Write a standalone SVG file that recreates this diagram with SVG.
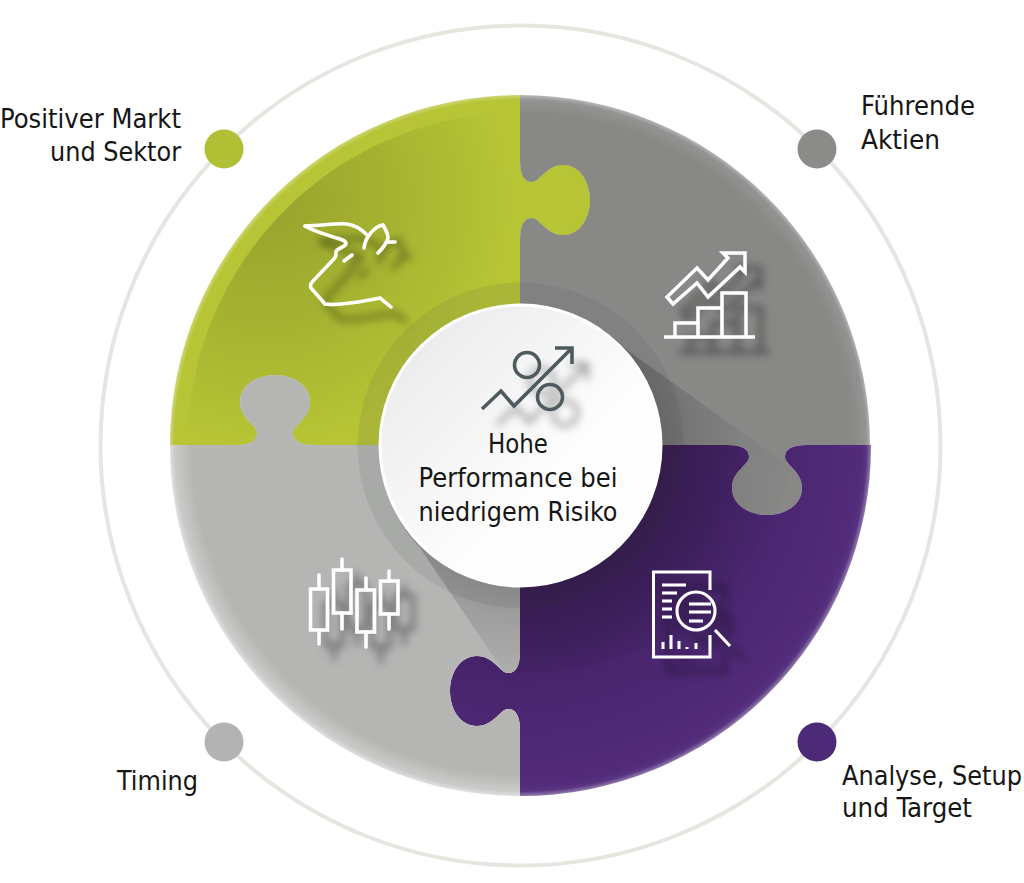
<svg xmlns="http://www.w3.org/2000/svg" width="1024" height="883" viewBox="0 0 1024 883">
<style>
text{font-family:"DejaVu Sans Condensed","DejaVu Sans","Noto Sans",sans-serif;font-stretch:condensed;font-size:26px;fill:#161615}
.ic{fill:none;stroke:#fff;stroke-width:3.5;stroke-linecap:round;stroke-linejoin:miter}
.pc{fill:none;stroke:#4f5a5e;stroke-width:3.6;stroke-linejoin:miter}
</style>
<defs>
<filter id="sh" x="-30%" y="-30%" width="190%" height="190%"><feDropShadow dx="15" dy="15" stdDeviation="4.5" flood-color="#000" flood-opacity=".5"/></filter>
<filter id="shg" x="-30%" y="-30%" width="190%" height="190%"><feDropShadow dx="15" dy="16" stdDeviation="4.5" flood-color="#000" flood-opacity=".42"/></filter>
<clipPath id="cG"><path d="M520,95A350,350 0 0 0 170,445H235C250,445 257,441 257,433C257,425 240,419 240,402C240,385 257,375 275,375C293,375 310,385 310,402C310,419 293,425 293,433C293,441 300,445 315,445H520V240C520,225 524,218 532,218C540,218 546,235 563,235C580,235 590,218 590,200C590,182 580,165 563,165C546,165 540,182 532,182C524,182 520,175 520,160Z"/></clipPath>
<radialGradient id="gG" gradientUnits="userSpaceOnUse" cx="265" cy="200" r="245"><stop offset="0" stop-color="#96a32d"/><stop offset=".5" stop-color="#a5b230"/><stop offset="1" stop-color="#b6c435"/></radialGradient>
<linearGradient id="gC" x1="0" y1="0" x2="1" y2="1"><stop offset="0" stop-color="#e6e7e7"/><stop offset=".6" stop-color="#fdfdfd"/><stop offset="1" stop-color="#fff"/></linearGradient>
<radialGradient id="gP" gradientUnits="userSpaceOnUse" cx="520.5" cy="445.5" r="350"><stop offset=".45" stop-color="#40205f"/><stop offset=".78" stop-color="#4b2772"/><stop offset=".97" stop-color="#522b7a"/><stop offset="1" stop-color="#5d3a85"/></radialGradient>
<radialGradient id="gS" gradientUnits="userSpaceOnUse" cx="520.5" cy="445.5" r="350"><stop offset=".95" stop-color="#888887"/><stop offset="1" stop-color="#979796"/></radialGradient>
<radialGradient id="gL" gradientUnits="userSpaceOnUse" cx="520.5" cy="445.5" r="350"><stop offset=".94" stop-color="#b5b6b4"/><stop offset="1" stop-color="#d0d0cf"/></radialGradient>
<radialGradient id="gE" gradientUnits="userSpaceOnUse" cx="520.5" cy="445.5" r="351"><stop offset=".985" stop-color="#fff" stop-opacity="0"/><stop offset="1" stop-color="#fff" stop-opacity=".35"/></radialGradient>
<radialGradient id="gF" gradientUnits="userSpaceOnUse" cx="520.5" cy="445.5" r="285"><stop offset=".49" stop-color="#000" stop-opacity=".2"/><stop offset=".6" stop-color="#000" stop-opacity=".13"/><stop offset=".78" stop-color="#000" stop-opacity=".05"/><stop offset="1" stop-color="#000" stop-opacity="0"/></radialGradient>
</defs>
<circle id="ring" cx="520.5" cy="445.5" r="420" fill="none" stroke="#e6e6e1" stroke-width="4"/>
<g id="piece-green">
<path fill="#b6c435" d="M520,95A350,350 0 0 0 170,445H235C250,445 257,441 257,433C257,425 240,419 240,402C240,385 257,375 275,375C293,375 310,385 310,402C310,419 293,425 293,433C293,441 300,445 315,445H520V240C520,225 524,218 532,218C540,218 546,235 563,235C580,235 590,218 590,200C590,182 580,165 563,165C546,165 540,182 532,182C524,182 520,175 520,160Z"/>
<circle clip-path="url(#cG)" cx="520.5" cy="445.5" r="333" fill="url(#gG)"/>
</g>
<g id="piece-grey">
<path fill="url(#gS)" d="M520,95A350,350 0 0 1 870,445H807C792,445 785,449 785,457C785,465 802,471 802,488C802,505 785,515 767,515C749,515 732,505 732,488C732,471 749,465 749,457C749,449 742,445 727,445H520V240C520,225 524,218 532,218C540,218 546,235 563,235C580,235 590,218 590,200C590,182 580,165 563,165C546,165 540,182 532,182C524,182 520,175 520,160Z"/>
</g>
<g id="piece-purple">
<path fill="url(#gP)" d="M520,445H727C742,445 749,449 749,457C749,465 732,471 732,488C732,505 749,515 767,515C785,515 802,505 802,488C802,471 785,465 785,457C785,449 792,445 807,445H871A350,350 0 0 1 520,796V731C520,716 516,709 508,709C500,709 494,726 477,726C460,726 450,709 450,691C450,673 460,656 477,656C494,656 500,673 508,673C516,673 520,666 520,651Z"/>
</g>
<g id="piece-lightgrey">
<path fill="url(#gL)" d="M170,445H235C250,445 257,441 257,433C257,425 240,419 240,402C240,385 257,375 275,375C293,375 310,385 310,402C310,419 293,425 293,433C293,441 300,445 315,445H520V651C520,666 516,673 508,673C500,673 494,656 477,656C460,656 450,673 450,691C450,709 460,726 477,726C494,726 500,709 508,709C516,709 520,716 520,731V796A350,350 0 0 1 170,445Z"/>
</g>
<circle id="edge" cx="520.5" cy="445.5" r="351" fill="url(#gE)"/>
<g id="connectors"/>
<g id="shadow-fan">
<circle cx="520.5" cy="445.5" r="163" fill="#3c4a4a" fill-opacity=".11"/>
<path fill="url(#gF)" d="M627,350L792,468A272,272 0 0 1 504,672L420,548A141,141 0 0 1 627,350Z"/>
</g>
<g id="icon-bull" filter="url(#sh)" class="ic">
<path d="M305,226C320,226 335,223 347,224C354,225 361,229 366,234"/>
<path d="M305,226C315,232 328,235 340,239C347,241 347,244 344,246C339,249 335,250 336,254C336,258 334,259 332,261L313,281C310,284 310,286 311,288L325,304C340,306 365,301 380,298L391,307"/>
<path d="M344,261L352,255"/>
<path d="M364,248C365,237 375,226 383,225C386,230 388,234 388,238C386,245 382,249 378,253"/>
<path d="M387,242H395"/>
</g>
<g id="icon-chart" filter="url(#sh)" class="ic" style="stroke-linecap:butt">
<path d="M664,337H755M675,337V323H698M698,337V308H722M722,337V293H746V337"/>
<path d="M667,297L673,304L697,283L708,297L740,267L745,272V253H723L728,258L708,280L697,268Z"/>
</g>
<g id="icon-report" class="ic" filter="url(#sh)" style="stroke-linecap:butt;stroke-width:3">
<path d="M710,590V572H653.500V657H710V635"/>
<path d="M662,585H686M662,593H677M662,601H672M662,609H672M662,617H672"/>
<path d="M663,649V642M671,649V635M679,649V641M687,649V647M696,649V643"/>
<circle cx="696" cy="611" r="19"/>
<path d="M715,630L730,646M689,604H711M689,612H711M689,621H703"/>
</g>
<g id="icon-candles" class="ic" filter="url(#sh)">
<rect x="310.500" y="589" width="17" height="41"/><path d="M319,575V589M319,630V644"/>
<rect x="333.500" y="570" width="17.500" height="43"/><path d="M342,559V570M342,613V629"/>
<rect x="357" y="590" width="17.500" height="42"/><path d="M366,578V590M366,632V647"/>
<rect x="380.500" y="581" width="17.500" height="33"/><path d="M389,571V581M389,614V629"/>
</g>
<g id="center">
<circle cx="520.500" cy="445.500" r="140.500" fill="url(#gC)" stroke="#fff" stroke-width="3"/>
<g class="pc" filter="url(#shg)">
<circle cx="527" cy="365" r="12.500"/><circle cx="550" cy="397" r="12.500"/>
<path d="M482,409L501,391L514,406L571,349M555,348H572V364"/>
</g>
<text x="518" y="453" text-anchor="middle" textLength="60" lengthAdjust="spacingAndGlyphs">Hohe</text>
<text x="518" y="487" text-anchor="middle" textLength="199" lengthAdjust="spacingAndGlyphs">Performance bei</text>
<text x="518" y="521" text-anchor="middle" textLength="199" lengthAdjust="spacingAndGlyphs">niedrigem Risiko</text>
</g>
<g id="node-markt"><circle cx="224" cy="149" r="19.500" fill="#b1bf35"/>
<text x="181" y="128" text-anchor="end" textLength="181" lengthAdjust="spacingAndGlyphs">Positiver Markt</text>
<text x="181" y="161" text-anchor="end" textLength="131" lengthAdjust="spacingAndGlyphs">und Sektor</text></g>
<g id="node-aktien"><circle cx="817" cy="149" r="19.500" fill="#8b8b8a"/>
<text x="861" y="115" textLength="114" lengthAdjust="spacingAndGlyphs">Führende</text>
<text x="861" y="149" textLength="79" lengthAdjust="spacingAndGlyphs">Aktien</text></g>
<g id="node-timing"><circle cx="224" cy="742" r="19.500" fill="#b3b3b3"/>
<text x="117" y="790" textLength="81" lengthAdjust="spacingAndGlyphs">Timing</text></g>
<g id="node-analyse"><circle cx="817" cy="742" r="19.500" fill="#4d2a77"/>
<text x="842" y="785" textLength="180" lengthAdjust="spacingAndGlyphs">Analyse, Setup</text>
<text x="842" y="817" textLength="130" lengthAdjust="spacingAndGlyphs">und Target</text></g>
</svg>
